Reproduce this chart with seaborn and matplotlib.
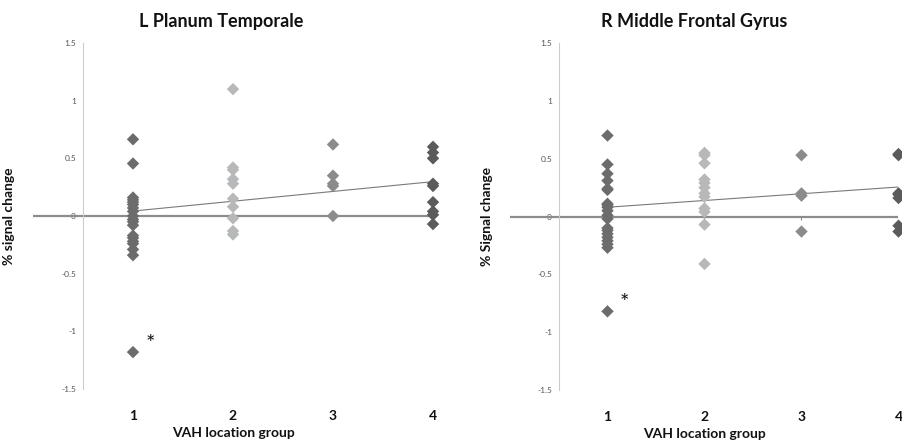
import matplotlib
matplotlib.use("Agg")
import matplotlib.pyplot as plt
import seaborn as sns
import pandas as pd

# values (per VAH location group)
lpt_g1 = [0.665, 0.455, 0.16, 0.14, 0.12, 0.10, 0.07, 0.04, 0.0, -0.03, -0.05, -0.08,
          -0.17, -0.19, -0.22, -0.24, -0.29, -0.34, -1.18]
lpt_g2 = [1.10, 0.42, 0.40, 0.32, 0.28, 0.15, 0.08, -0.02, -0.13, -0.16]
lpt_g3 = [0.62, 0.35, 0.28, 0.26, 0.0]
lpt_g4 = [0.60, 0.55, 0.50, 0.28, 0.26, 0.12, 0.04, 0.01, -0.07]
lpt_trend = [0.043, 0.298]  # Excel trendline at group 1 and group 4

rmfg_g1 = [0.70, 0.45, 0.37, 0.31, 0.24, 0.23, 0.11, 0.10, 0.08, 0.05, 0.01, -0.02,
           -0.10, -0.12, -0.15, -0.18, -0.21, -0.24, -0.27, -0.82]
rmfg_g2 = [0.55, 0.53, 0.46, 0.32, 0.29, 0.25, 0.20, 0.17, 0.07, 0.04, -0.07, -0.41]
rmfg_g3 = [0.53, 0.20, 0.18, -0.13]
rmfg_g4 = [0.54, 0.53, 0.20, 0.19, 0.16, -0.08, -0.13]
rmfg_trend = [0.08, 0.255]

groups = [1, 2, 3, 4]
trend_x = [1, 4]
y_ticks = [-1.5, -1, -0.5, 0, 0.5, 1, 1.5]
y_tick_labels = ["-1.5", "-1", "-0.5", "0", "0.5", "1", "1.5"]
outliers = {"L Planum Temporale": -1.18, "R Middle Frontal Gyrus": -0.82}

palette = {1: "#6c6c6c", 2: "#b6b8ba", 3: "#8b8b8b", 4: "#5a5c5c"}


def to_frame(*cols):
    rows = []
    for g, vals in zip(groups, cols):
        for v in vals:
            rows.append({"group": g, "value": v})
    return pd.DataFrame(rows)


panels = [
    ("L Planum Temporale", "% signal change", to_frame(lpt_g1, lpt_g2, lpt_g3, lpt_g4),
     lpt_trend, [33 / 903, 53 / 442, 400 / 903, 346 / 442], 221),
    ("R Middle Frontal Gyrus", "% Signal change", to_frame(rmfg_g1, rmfg_g2, rmfg_g3, rmfg_g4),
     rmfg_trend, [510.5 / 903, 52 / 442, 388 / 903, 347 / 442], 694),
]

sns.set_style("white")
plt.rcParams["font.family"] = ["Lato", "DejaVu Sans"]

fig = plt.figure(figsize=(9.03, 4.42), dpi=100)

for title, ylabel, df, trend, rect, title_x in panels:
    ax = fig.add_axes(rect)

    # zero line with small ticks at each group
    ax.axhline(0, color="#8c8c8c", lw=1.6, zorder=1)
    ax.vlines(groups, -0.028, 0, color="#8c8c8c", lw=0.8, zorder=1)

    sns.scatterplot(data=df, x="group", y="value", hue="group", palette=palette,
                    marker="D", s=40, edgecolor="none", legend=False, ax=ax,
                    clip_on=False, zorder=3)
    sns.lineplot(x=trend_x, y=trend, color="#7a7a7a", lw=0.8, ax=ax, zorder=2)

    ax.set_xlim(0, 4)
    ax.set_ylim(-1.5, 1.5)

    # y axis sits at x = 0.5 like the Excel original
    for side in ["top", "right", "bottom"]:
        ax.spines[side].set_visible(False)
    ax.spines["left"].set_position(("data", 0.5))
    ax.spines["left"].set_color("#cccccc")
    ax.spines["left"].set_linewidth(0.8)
    ax.set_yticks(y_ticks)
    ax.set_yticklabels(y_tick_labels)
    ax.tick_params(axis="y", direction="out", length=3, width=0.8, color="#cccccc",
                   labelsize=6, labelcolor="#555555", pad=2)

    ax.set_xticks(groups)
    ax.set_xticklabels([str(g) for g in groups], fontweight="bold")
    ax.tick_params(axis="x", length=0, labelsize=10, pad=15, labelcolor="#111111")

    ax.set_xlabel("VAH location group", fontsize=10, fontweight="bold", color="#111111")
    ax.xaxis.set_label_coords(0.5, -0.11)
    ax.set_ylabel(ylabel, fontsize=10, fontweight="bold", color="#111111")
    ax.yaxis.set_label_coords(-0.045, 0.5)

    ax.text(1.17, outliers[title] + 0.07, "*", fontsize=16, ha="center", va="center",
            color="#111111")

    fig.text(title_x / 903, 1 - 22 / 442, title, fontsize=13, fontweight="bold",
             ha="center", va="center", color="#111111")

fig.savefig("out.png", dpi=100)
